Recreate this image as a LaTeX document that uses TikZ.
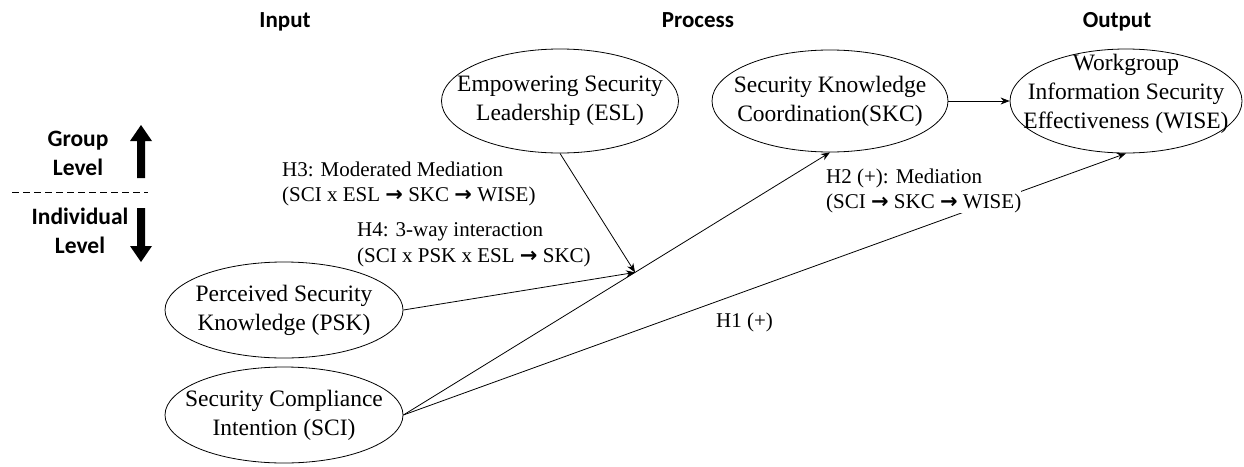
\documentclass[tikz,border=0pt]{standalone}
\usepackage{fontspec}
\setmainfont{Liberation Serif}
\newfontfamily\headfont{Carlito}
\newfontfamily\arrfont{DejaVu Sans}
\usetikzlibrary{arrows.meta,calc,shapes.geometric}
\newcommand{\myarr}{{\arrfont\bfseries\fontsize{21}{21}\selectfont →}}
\begin{document}
\begin{tikzpicture}[x=1pt,y=-1pt,
  ell/.style={draw, ellipse, inner sep=0pt, line width=0.8pt},
  etext/.style={font=\fontsize{23.5}{29}\selectfont, align=center, inner sep=0pt},
  lbl/.style={font=\fontsize{21}{25.5}\selectfont, align=left, inner sep=0pt, anchor=west, fill=white},
  head/.style={font=\headfont\bfseries\fontsize{23}{27}\selectfont, inner sep=0pt, anchor=base},
  lvl/.style={font=\headfont\bfseries\fontsize{23.5}{29}\selectfont, align=center, inner sep=0pt},
  arr/.style={-{Stealth[length=9pt,width=7pt]}, line width=0.8pt},
  ln/.style={line width=0.8pt}]
\useasboundingbox (0,0) rectangle (1244,466);

% headings
\node[head] (hin) at (285,27) {Input};
\node[head] (hpr) at (698,27) {Process};
\node[head] (hout) at (1117,27) {Output};

% levels
\node[lvl] (grp) at (78,153) {Group\\Level};
\node[lvl] (ind) at (80,231) {Individual\\Level};
\fill (137,178) -- (137,141) -- (130,141) -- (141,125) -- (152,141) -- (145,141) -- (145,178) -- cycle;
\fill (137,208) -- (145,208) -- (145,246) -- (152,246) -- (141,262) -- (130,246) -- (137,246) -- cycle;
\draw[dash pattern=on 7pt off 4pt, line width=0.8pt] (12,192) -- (148,192);

% ellipses
\node[ell, minimum width=237pt, minimum height=104pt] (esl) at (560,101) {};
\node[etext] at (560,101) {Empowering Security\\Leadership (ESL)};
\node[ell, minimum width=236pt, minimum height=102pt] (skc) at (830,101) {};
\node[etext] at (830,101) {Security Knowledge\\Coordination(SKC)};
\node[ell, minimum width=232pt, minimum height=104pt] (wise) at (1126,101) {};
\node[etext] at (1126,94) {Workgroup\\Information Security\\Effectiveness (WISE)};
\node[ell, minimum width=238pt, minimum height=96pt] (psk) at (284,310) {};
\node[etext] at (284,310) {Perceived Security\\Knowledge (PSK)};
\node[ell, minimum width=238pt, minimum height=96pt] (sci) at (284,415) {};
\node[etext] at (284,415) {Security Compliance\\Intention (SCI)};

% connectors
\coordinate (j) at ($(sci.east)!0.543!(skc.south)$);
\draw[arr] (sci.east) -- (skc.south);
\draw[arr] (sci.east) -- (wise.south);
\draw[arr] (skc.east) -- (wise.west);
\draw[arr] (esl.south) -- (j);
\draw[arr] (psk.east) -- (j);

% labels
\node[lbl] (h3) at (282,184) {H3: Moderated Mediation\\(SCI x ESL \myarr\ SKC \myarr\ WISE)};
\node[lbl] (h4) at (357,245) {H4: 3-way interaction\\(SCI x PSK x ESL \myarr\ SKC)};
\node[lbl] (h2) at (826,191) {H2 (+): Mediation\\(SCI \myarr\ SKC \myarr\ WISE)};
\node[lbl] (h1) at (716,322) {H1 (+)};
\end{tikzpicture}
\end{document}
